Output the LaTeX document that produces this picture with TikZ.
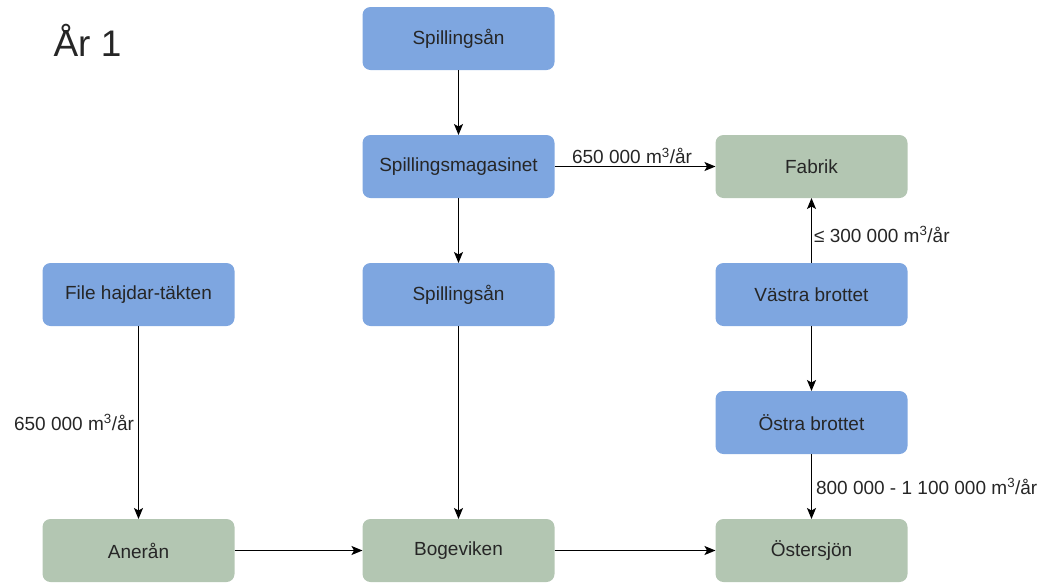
\documentclass[tikz,border=0pt]{standalone}
\usepackage{fontspec}
\setmainfont{Liberation Sans}
\usetikzlibrary{arrows.meta,positioning}
\definecolor{boxblue}{HTML}{7EA6E0}
\definecolor{boxgreen}{HTML}{B3C6B2}
\definecolor{ink}{HTML}{262626}
\newcommand{\flowrate}[1]{#1 m\textsuperscript{3}/år}

\begin{document}
\begin{tikzpicture}[x=1pt,y=-1pt,
  every node/.style={text=ink,font=\fontsize{19}{22}\selectfont},
  base box/.style={rounded corners=8pt,minimum width=192pt,minimum height=63pt,inner sep=0pt,outer sep=0pt},
  blue box/.style={base box,fill=boxblue},
  green box/.style={base box,fill=boxgreen},
  flow/.style={line width=1.1pt,-{Stealth[length=11pt,width=9pt,inset=2.5pt]}},
  node distance=65pt]
\useasboundingbox (0,0) rectangle (1050,582);
\node[anchor=west,font=\fontsize{37}{42}\selectfont] (title) at (50,40) {År 1};

% middle column
\node[blue box] (spillTop) at (458.5,38.5) {Spillingsån};
\node[blue box,below=of spillTop] (magasin) {Spillingsmagasinet};
\node[blue box,below=of magasin] (spillMid) {Spillingsån};
\node[green box,below=193pt of spillMid] (boge) {Bogeviken};

% left column
\node[blue box] (file) at (138.5,294.5) {File hajdar-täkten};
\node[green box,below=193pt of file] (aneran) {Anerån};

% right column
\node[green box] (fabrik) at (811.5,166.5) {Fabrik};
\node[blue box,below=of fabrik] (vastra) {Västra brottet};
\node[blue box,below=of vastra] (ostra) {Östra brottet};
\node[green box,below=of ostra] (ostersjon) {Östersjön};

\draw[flow] (spillTop) -- (magasin);
\draw[flow] (magasin) -- (spillMid);
\draw[flow] (spillMid) -- (boge);
\draw[flow] (magasin) -- node[above,inner sep=2pt,xshift=-3pt] {\flowrate{650 000}} (fabrik);
\draw[flow] (file) -- node[left,inner sep=4pt] {\flowrate{650 000}} (aneran);
\draw[flow] (aneran) -- (boge);
\draw[flow] (boge) -- (ostersjon);
\draw[flow] (vastra) -- node[right,inner sep=2pt,yshift=-4pt] {≤ \flowrate{300 000}} (fabrik);
\draw[flow] (vastra) -- (ostra);
\draw[flow] (ostra) -- node[right,inner sep=4pt] {\flowrate{800 000 - 1 100 000}} (ostersjon);
\end{tikzpicture}
\end{document}
